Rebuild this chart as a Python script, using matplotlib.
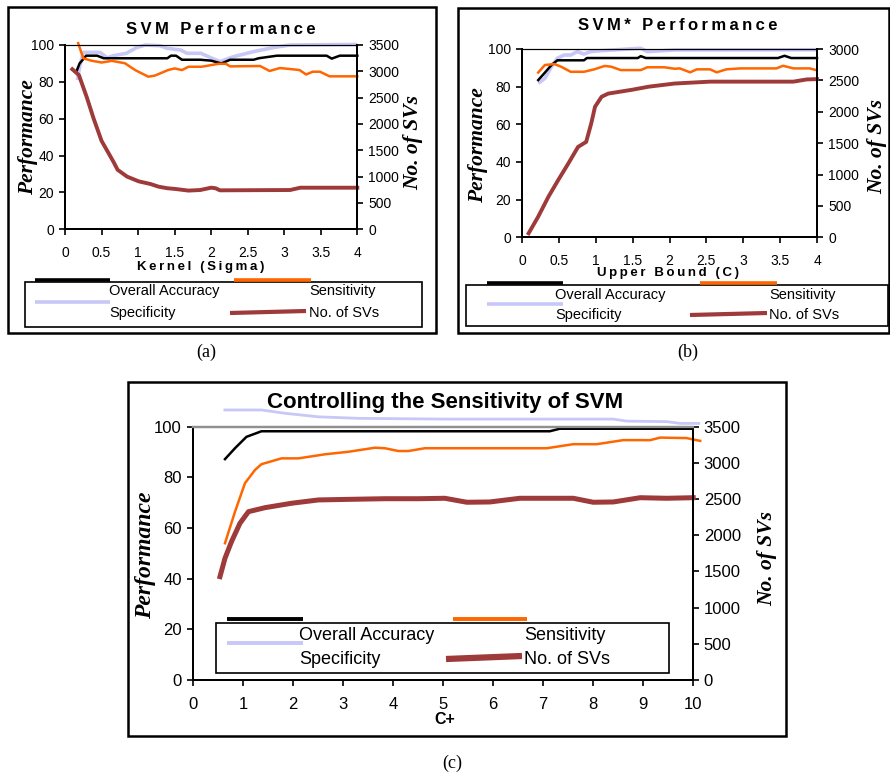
import matplotlib
matplotlib.use('Agg')
import matplotlib.pyplot as plt
from matplotlib.lines import Line2D
from matplotlib.patches import Rectangle
from matplotlib.ticker import FuncFormatter

W, H = 890, 778
SANS = ['Liberation Sans', 'DejaVu Sans']
SERIF = ['Liberation Serif', 'DejaVu Serif']

ACC_C = 'black'
SEN_C = '#ff6600'
SPE_C = '#c8c8f8'
NSV_C = '#9e3a3a'

# ---- (a) SVM performance vs kernel sigma ----
a_acc_x = [0.16, 0.2, 0.29, 0.44, 0.53, 1.4, 1.45, 1.52, 1.6, 1.85, 2.0, 2.14, 2.26, 2.58, 2.65, 2.9, 3.58, 3.65, 3.76, 4.0]
a_acc_y = [86, 90, 94.2, 94.2, 92.8, 92.8, 94.2, 94.2, 92, 92, 91.5, 90, 92, 92, 92.8, 94.2, 94.2, 92.6, 94.2, 94.2]
a_spe_x = [0.17, 0.2, 0.25, 0.48, 0.58, 0.66, 0.84, 0.98, 1.1, 1.3, 1.4, 1.58, 1.67, 1.86, 2.0, 2.12, 2.3, 2.58, 2.85, 3.08, 4.0]
a_spe_y = [81, 88, 96, 96, 93, 94.2, 95.5, 98.6, 100, 99.6, 98.2, 97.3, 95.5, 95.5, 93, 91, 93.6, 96.4, 98.6, 100, 100.3]
a_sen_x = [0.18, 0.25, 0.36, 0.5, 0.64, 0.82, 0.96, 1.14, 1.23, 1.41, 1.5, 1.6, 1.69, 1.87, 2.0, 2.1, 2.2, 2.26,
           2.67, 2.8, 2.94, 3.12, 3.21, 3.3, 3.39, 3.49, 3.62, 4.0]
a_sen_y = [101, 92.8, 91.5, 90.5, 91.4, 90.1, 86.4, 82.8, 83.4, 86.4, 87.3, 86.4, 88.2, 88.2, 89.1, 89.8, 89.8, 88.4,
           88.6, 85.9, 87.5, 86.8, 86.4, 84, 85.5, 85.5, 83, 83]
a_nsv_x = [0.1, 0.19, 0.3, 0.39, 0.5, 0.66, 0.72, 0.85, 1.01, 1.17, 1.28, 1.4, 1.51, 1.69, 1.85, 2.0, 2.06, 2.12, 3.08, 3.22, 4.0]
a_nsv_y = [3040, 2930, 2500, 2110, 1680, 1290, 1130, 1000, 910, 860, 810, 780, 766, 735, 746, 790, 780, 740, 746, 790, 790]

# ---- (b) SVM* performance vs upper bound C ----
b_acc_x = [0.22, 0.3, 0.4, 0.48, 0.84, 0.88, 1.57, 1.61, 1.68, 3.47, 3.56, 3.65, 4.0]
b_acc_y = [83.5, 87, 91.5, 94, 94, 95.2, 95.2, 96.2, 95.2, 95.2, 96.4, 95.2, 95.2]
b_spe_x = [0.22, 0.31, 0.4, 0.48, 0.57, 0.66, 0.75, 0.84, 0.93, 1.07, 1.61, 1.7, 2.07, 4.0]
b_spe_y = [81.8, 84.4, 90.6, 95.1, 96.8, 96.8, 98.6, 97.3, 98.6, 99.1, 100.4, 98.6, 99.5, 99.6]
b_sen_x = [0.22, 0.31, 0.44, 0.53, 0.66, 0.84, 0.98, 1.12, 1.21, 1.34, 1.61, 1.7, 1.93, 2.07, 2.14, 2.28, 2.37,
           2.55, 2.64, 2.77, 2.96, 3.45, 3.54, 3.68, 3.9, 3.99]
b_sen_y = [87.5, 91.5, 92, 90.6, 87.9, 87.9, 89.2, 91, 90.6, 88.8, 88.8, 90.3, 90.3, 89.5, 89.7, 87.6, 89.2,
           89.2, 87.6, 89.2, 89.7, 89.7, 91.1, 89.7, 89.7, 88.8]
b_nsv_x = [0.09, 0.22, 0.36, 0.49, 0.63, 0.76, 0.87, 0.94, 0.99, 1.08, 1.17, 1.49, 1.72, 2.07, 2.55, 3.68, 3.86, 4.0]
b_nsv_y = [64, 330, 650, 910, 1180, 1440, 1520, 1820, 2080, 2240, 2290, 2350, 2400, 2450, 2480, 2480, 2515, 2520]

# ---- (c) controlling the sensitivity, vs C+ ----
c_acc_x = [0.64, 0.84, 1.07, 1.37, 7.14, 7.34, 10.0]
c_acc_y = [87.2, 91.5, 96, 98.2, 98.2, 99.2, 99.2]
c_spe_x = [0.61, 1.37, 1.84, 2.51, 3.31, 5.04, 8.41, 8.68, 9.48, 9.75, 10.15]
c_spe_y = [106.6, 106.6, 105.3, 103.9, 103.3, 103, 103, 102.2, 102, 101.3, 101.3]
c_sen_x = [0.64, 0.84, 1.04, 1.24, 1.37, 1.77, 2.11, 2.64, 3.11, 3.64, 3.84, 4.11, 4.31, 4.64, 4.94, 7.08, 7.61,
           8.08, 8.61, 9.15, 9.35, 9.88, 10.15]
c_sen_y = [54, 66.4, 77.7, 82.9, 85.2, 87.5, 87.5, 89.1, 90.1, 91.7, 91.5, 90.4, 90.4, 91.5, 91.5, 91.5, 93.1,
           93.1, 94.7, 94.7, 95.7, 95.5, 94.4]
c_nsv_x = [0.54, 0.64, 0.77, 0.94, 1.11, 1.44, 1.97, 2.51, 3.18, 3.84, 4.51, 5.04, 5.48, 5.94, 6.54, 7.61, 8.01,
           8.41, 8.95, 9.48, 10.01]
c_nsv_y = [1428, 1682, 1911, 2166, 2326, 2381, 2442, 2488, 2497, 2505, 2505, 2511, 2456, 2460, 2511, 2511, 2456,
           2460, 2519, 2511, 2519]

legend_labels = ['Overall Accuracy', 'Sensitivity', 'Specificity', 'No. of SVs']


def fx(px):
    return px / W


def fy(py):
    return 1 - py / H


def spaced(s):
    return '\u2009'.join(s)


fig = plt.figure(figsize=(W / 100, H / 100), dpi=100)


def box(x0, y0, x1, y1, lw=1.5):
    fig.patches.append(Rectangle((fx(x0), fy(y1)), fx(x1) - fx(x0), fy(y0) - fy(y1),
                                 transform=fig.transFigure, fill=False, ec='black', lw=lw))


def seg(x0, y0, x1, y1, color, lw):
    fig.lines.append(Line2D([fx(x0), fx(x1)], [fy(y0), fy(y1)], transform=fig.transFigure,
                            color=color, lw=lw, solid_capstyle='butt'))


def label(x, y, s, **kw):
    fig.text(fx(x), fy(y), s, **kw)


def panel(px, xmax, xstep, svmax, data, fs, lws, top_color='black', top_lw=0.8):
    x0, y0, x1, y1 = px  # left, top, right, bottom in pixels
    ax = fig.add_axes([fx(x0), fy(y1), fx(x1) - fx(x0), fy(y0) - fy(y1)])
    ax2 = ax.twinx()
    (acc_x, acc_y), (sen_x, sen_y), (spe_x, spe_y), (nsv_x, nsv_y) = data
    ax.plot(spe_x, spe_y, color=SPE_C, lw=lws[2], clip_on=False, zorder=2, solid_capstyle='butt')
    ax.plot(acc_x, acc_y, color=ACC_C, lw=lws[0], clip_on=False, zorder=3)
    ax.plot(sen_x, sen_y, color=SEN_C, lw=lws[1], clip_on=False, zorder=4)
    ax2.plot(nsv_x, nsv_y, color=NSV_C, lw=lws[3], clip_on=False)
    ax.set_xlim(0, xmax)
    ax.set_ylim(0, 100)
    ax2.set_ylim(0, svmax)
    n = int(round(xmax / xstep))
    ax.set_xticks([i * xstep for i in range(n + 1)])
    ax.xaxis.set_major_formatter(FuncFormatter(lambda v, p: '%g' % v))
    ax.set_yticks(range(0, 101, 20))
    ax2.set_yticks(range(0, svmax + 1, 500))
    for a in (ax, ax2):
        a.set_facecolor('none')
        for s in a.spines.values():
            s.set_linewidth(1.4)
        a.spines['top'].set_color(top_color)
        a.spines['top'].set_linewidth(top_lw)
        a.tick_params(direction='out', length=4, width=1.2, labelsize=fs, colors='black')
        for t in a.get_xticklabels() + a.get_yticklabels():
            t.set_family(SANS)
    ax.tick_params(axis='x', pad=8)
    ax.tick_params(axis='y', pad=4)
    ax2.tick_params(axis='y', pad=4)
    return ax, ax2


def legend(bx, samples, texts, fs, lw_line=2.6, lw_nsv=3.0):
    box(*bx, lw=1.2)
    (kx0, kx1, ky), (ox0, ox1, oy), (sx0, sx1, sy), (nx0, ny0, nx1, ny1) = samples
    seg(kx0, ky, kx1, ky, ACC_C, lw_line)
    seg(ox0, oy, ox1, oy, SEN_C, lw_line)
    seg(sx0, sy, sx1, sy, SPE_C, lw_line)
    seg(nx0, ny0, nx1, ny1, NSV_C, lw_nsv)
    for (tx, ty), s in zip(texts, legend_labels):
        label(tx, ty, s, fontsize=fs, family=SANS, ha='left', va='center')


# ---------- panel (a) ----------
box(8, 7, 436, 333, lw=1.8)
panel((65, 45, 357.3, 229.3), 4, 0.5, 3500,
      [(a_acc_x, a_acc_y), (a_sen_x, a_sen_y), (a_spe_x, a_spe_y), (a_nsv_x, a_nsv_y)],
      10, (1.8, 1.8, 2.6, 2.8))
label(221, 30, spaced('SVM Performance'), fontsize=12, fontweight='bold', family=SANS, ha='center', va='center')
label(201, 267, spaced('Kernel (Sigma)'), fontsize=9.5, fontweight='bold', family=SANS, ha='center', va='center')
label(28, 137, 'Performance', fontsize=15.5, fontweight='bold', style='italic', family=SERIF,
      rotation=90, ha='center', va='center')
label(413, 143, 'No. of SVs', fontsize=15.5, fontweight='bold', style='italic', family=SERIF,
      rotation=90, ha='center', va='center')
legend((25, 282, 422, 327),
       [(35, 110, 280), (234, 311, 280), (35, 110, 302), (230, 313, 306, 311)],
       [(109, 291), (309, 291), (109, 313), (309, 313)], 10.5)
label(206, 352, '(a)', fontsize=13, family=SERIF, ha='center', va='center')

# ---------- panel (b) ----------
box(458, 8, 889, 333, lw=1.8)
panel((522, 49, 817, 237.3), 4, 0.5, 3000,
      [(b_acc_x, b_acc_y), (b_sen_x, b_sen_y), (b_spe_x, b_spe_y), (b_nsv_x, b_nsv_y)],
      10, (1.8, 1.8, 2.6, 2.8))
label(678, 26, spaced('SVM* Performance'), fontsize=12, fontweight='bold', family=SANS, ha='center', va='center')
label(668, 273, spaced('Upper Bound (C)'), fontsize=9.5, fontweight='bold', family=SANS, ha='center', va='center')
label(478, 145, 'Performance', fontsize=15.5, fontweight='bold', style='italic', family=SERIF,
      rotation=90, ha='center', va='center')
label(877, 146, 'No. of SVs', fontsize=15.5, fontweight='bold', style='italic', family=SERIF,
      rotation=90, ha='center', va='center')
legend((466, 285, 888, 326),
       [(487, 563, 283), (700, 777, 283), (487, 563, 304), (690, 315, 767, 313)],
       [(555, 295), (769, 295), (555, 315), (769, 315)], 10.5)
label(688, 352, '(b)', fontsize=13, family=SERIF, ha='center', va='center')

# ---------- panel (c) ----------
box(128, 382, 786, 736, lw=1.8)
panel((193, 426.7, 692.7, 680), 10, 1, 3500,
      [(c_acc_x, c_acc_y), (c_sen_x, c_sen_y), (c_spe_x, c_spe_y), (c_nsv_x, c_nsv_y)],
      12, (1.8, 1.8, 2.0, 3.6), top_color='#909090', top_lw=1.6)
label(445, 403, 'Controlling the Sensitivity of SVM', fontsize=16, fontweight='bold', family=SANS,
      ha='center', va='center')
label(445, 720, 'C+', fontsize=11.5, fontweight='bold', family=SANS, ha='center', va='center')
label(146, 555, 'Performance', fontsize=17, fontweight='bold', style='italic', family=SERIF,
      rotation=90, ha='center', va='center')
label(767, 559, 'No. of SVs', fontsize=15.5, fontweight='bold', style='italic', family=SERIF,
      rotation=90, ha='center', va='center')
legend((216, 623, 669, 673),
       [(227, 303, 619), (453, 527, 619), (227, 303, 643), (446, 659, 522, 656)],
       [(299, 636), (524, 636), (299, 660), (524, 660)], 13, lw_line=2.8, lw_nsv=4.5)
label(452, 763, '(c)', fontsize=13, family=SERIF, ha='center', va='center')

fig.savefig('out.png', dpi=100, facecolor='white')
